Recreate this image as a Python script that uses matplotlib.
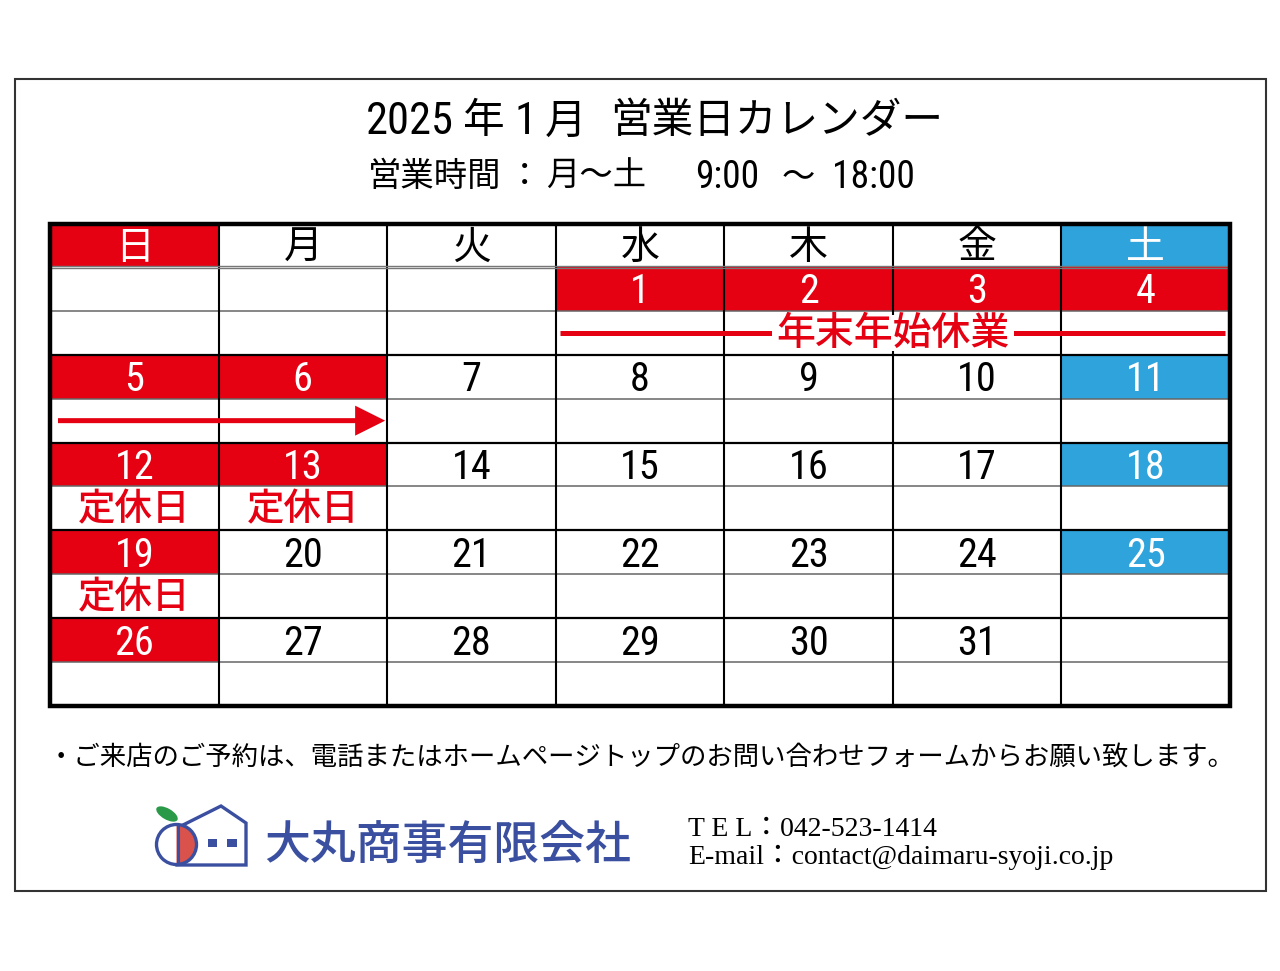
import math

import matplotlib
matplotlib.use('Agg')
import matplotlib.pyplot as plt
from matplotlib.patches import Rectangle, Circle, Wedge, Ellipse, FancyArrow

plt.rcParams['font.family'] = ['Noto Sans CJK JP', 'DejaVu Sans']

# --- data ---
weekday_labels = ['日', '月', '火', '水', '木', '金', '土']
first_col = 3          # 2025/1/1 は水曜日
n_days = 31
closed_days = [1, 2, 3, 4, 5, 6, 12, 13, 19, 26]
notes = {12: '定休日', 13: '定休日', 19: '定休日'}
span_label = '年末年始休業'
span_days = (1, 4)
arrow_days = (5, 6)

title_parts = [('2025', 366), ('年', 463), ('1', 515), ('月', 545), ('営業日カレンダー', 610)]
hours_parts = [('営業時間', 368), ('：', 508), ('月～土', 546), ('9:00', 695), ('～', 782), ('18:00', 832)]
note_text = '・ご来店のご予約は、電話またはホームページトップのお問い合わせフォームからお願い致します。'
company = '大丸商事有限会社'
tel_line = 'T E L：042-523-1414'
mail_line = 'E-mail：contact@daimaru-syoji.co.jp'

RED = '#e50012'
BLUE = '#2ea3dc'
LOGO_BLUE = '#3a4f9f'
NARROW = ['Roboto Condensed', 'Liberation Sans Narrow', 'Noto Sans CJK JP']

# grid geometry (pixels)
GX0, GX1 = 50, 1230
GY0 = 224
HEAD_H = 43
SUB_H = 43.9
col_w = (GX1 - GX0) / 7
n_weeks = math.ceil((first_col + n_days) / 7)


def cell_x(c):
    return GX0 + c * col_w


def sub_y(r):
    return GY0 + HEAD_H + r * SUB_H


def day_pos(d):
    idx = first_col + d - 1
    return idx // 7, idx % 7


fig = plt.figure(figsize=(12.8, 9.71), dpi=100)
ax = fig.add_axes([0, 0, 1, 1])
ax.set_xlim(0, 1280)
ax.set_ylim(971, 0)
ax.axis('off')

# outer frame
ax.add_patch(Rectangle((15, 79), 1251, 812, fill=False, ec='#333333', lw=1.5, zorder=10))

# title
for txt, x in title_parts:
    ax.text(x, 122, txt, family=NARROW, fontsize=32 if txt[0].isdigit() else 30,
            ha='left', va='center')
for txt, x in hours_parts:
    ax.text(x, 177, txt, family=NARROW, fontsize=27 if txt[0].isdigit() else 24,
            ha='left', va='center')

# header row
for c, lab in enumerate(weekday_labels):
    fc = RED if c == 0 else BLUE if c == 6 else None
    if fc:
        ax.add_patch(Rectangle((cell_x(c), GY0), col_w, HEAD_H, color=fc, lw=0, zorder=1))
    ax.text(cell_x(c) + col_w / 2, GY0 + HEAD_H / 2 + 2, lab, fontsize=28,
            color='white' if fc else 'black', ha='center', va='center', zorder=5)

# days
for d in range(1, n_days + 1):
    w, c = day_pos(d)
    y = sub_y(2 * w)
    fc = RED if d in closed_days else BLUE if c == 6 else None
    if fc:
        ax.add_patch(Rectangle((cell_x(c), y), col_w, SUB_H, color=fc, lw=0, zorder=1))
    ax.text(cell_x(c) + col_w / 2, y + SUB_H / 2 + 3, str(d), family=NARROW, fontsize=29,
            color='white' if fc else 'black', ha='center', va='center', zorder=5)
    if d in notes:
        ax.text(cell_x(c) + col_w / 2, y + SUB_H * 1.5 + 1, notes[d], fontsize=27,
                weight=500, color=RED, ha='center', va='center', zorder=5)

# 年末年始 line
w, c0 = day_pos(span_days[0])
_, c1 = day_pos(span_days[1])
ys = sub_y(2 * w + 1) + SUB_H / 2
xm = (cell_x(c0) + cell_x(c1 + 1)) / 2
ax.plot([cell_x(c0) + 4, cell_x(c1 + 1) - 5], [ys, ys], color=RED, lw=3.6, zorder=3.4,
        solid_capstyle='butt')
label_w = len(span_label) * 28 * 100 / 72 + 8
ax.add_patch(Rectangle((xm - label_w / 2, ys - SUB_H / 2 + 4), label_w, SUB_H - 8,
                       color='white', lw=0, zorder=3.5))
ax.text(xm, ys + 1, span_label, fontsize=28, weight=500, color=RED,
        ha='center', va='center', zorder=6)

# arrow
w, c0 = day_pos(arrow_days[0])
_, c1 = day_pos(arrow_days[1])
ya = sub_y(2 * w + 1) + SUB_H / 2
xa0, xa1 = cell_x(c0) + 8, cell_x(c1 + 1) - 2
ax.add_patch(FancyArrow(xa0, ya, xa1 - xa0, 0, width=5, head_width=30, head_length=30,
                        length_includes_head=True, color=RED, lw=0, zorder=6))

# grid lines
y_bot = sub_y(2 * n_weeks)
for c in range(1, 7):
    ax.plot([cell_x(c), cell_x(c)], [GY0, y_bot], color='black', lw=1.5, zorder=3)
ax.plot([GX0, GX1], [GY0 + HEAD_H - 1, GY0 + HEAD_H - 1], color='#777777', lw=1.0, zorder=3)
ax.plot([GX0, GX1], [GY0 + HEAD_H + 1.5, GY0 + HEAD_H + 1.5], color='#777777', lw=1.0, zorder=3)
for r in range(1, 2 * n_weeks):
    yy = sub_y(r)
    if r % 2:
        ax.plot([GX0, GX1], [yy, yy], color='#666666', lw=1.1, zorder=2)
    else:
        ax.plot([GX0, GX1], [yy, yy], color='black', lw=1.6, zorder=3.6)
ax.add_patch(Rectangle((GX0, GY0), GX1 - GX0, y_bot - GY0, fill=False, ec='black', lw=3.2, zorder=7))

# note
ax.text(48, 757, note_text, fontsize=19, ha='left', va='center')

# logo
ax.add_patch(Ellipse((167, 814), 24, 11, angle=30, color='#2a9a48', lw=0))
ax.add_patch(Wedge((176.5, 844.5), 19.5, -90, 90, color='#d9534c', lw=0))
ax.add_patch(Circle((176.5, 844.5), 20, fill=False, ec=LOGO_BLUE, lw=2.4))
ax.plot([178, 178], [825, 864], color=LOGO_BLUE, lw=2.2)
ax.plot([183, 221, 246, 246, 177], [825, 806, 823, 865, 865], color=LOGO_BLUE, lw=2.4,
        solid_joinstyle='miter')
ax.add_patch(Rectangle((208, 839), 9, 8, color=LOGO_BLUE, lw=0))
ax.add_patch(Rectangle((227, 839), 10, 8, color=LOGO_BLUE, lw=0))
ax.text(264, 846, company, fontsize=33, weight=500, color=LOGO_BLUE, ha='left', va='center')

# contact
serif = ['Liberation Serif', 'Noto Sans CJK JP']
ax.text(688, 829, tel_line, family=serif, fontsize=20, ha='left', va='center')
ax.text(688, 857, mail_line, family=serif, fontsize=20, ha='left', va='center')

plt.savefig('out.png', dpi=100)
plt.close()
